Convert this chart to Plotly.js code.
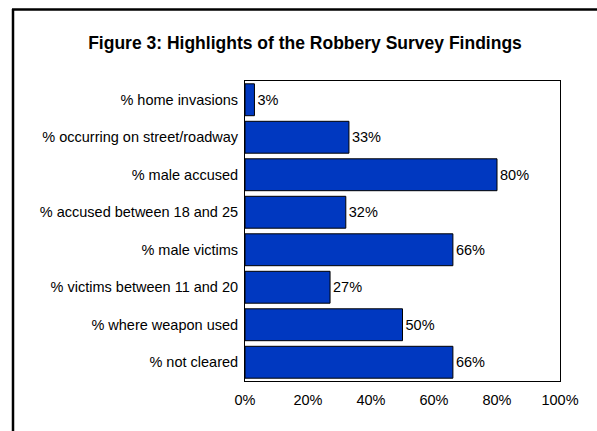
<!DOCTYPE html>
<html><head><meta charset="utf-8">
<script src="https://cdn.plot.ly/plotly-3.0.1.min.js"></script>
<style>html,body{margin:0;padding:0;background:#fff}#chart{width:597px;height:431px}</style>
</head><body><div id="chart"></div>
<script>
const categories = ["% home invasions","% occurring on street/roadway","% male accused","% accused between 18 and 25","% male victims","% victims between 11 and 20","% where weapon used","% not cleared"];
const values = [3, 33, 80, 32, 66, 27, 50, 66];
const xTickVals = [0, 20, 40, 60, 80, 100];
const xTickText = ["0%","20%","40%","60%","80%","100%"];

const L=245, R=560, T=81, B=381, W=597, H=431;
const px = x => (x - L) / (R - L);
const py = y => (B - y) / (B - T);

const trace = {
  type: 'bar', orientation: 'h',
  x: values, y: categories,
  marker: {color: '#0038C0', line: {color: '#000', width: 1}},
  text: values.map(v => v + '%'), textposition: 'outside',
  textfont: {family: 'Liberation Sans, Arial, sans-serif', size: 14.5, color: '#000'},
  cliponaxis: false, hoverinfo: 'none'
};
const layout = {
  width: W, height: H,
  margin: {l: L, r: W - R, t: T, b: H - B, pad: 0},
  paper_bgcolor: '#fff', plot_bgcolor: '#fff',
  font: {family: 'Liberation Sans, Arial, sans-serif', size: 14.5, color: '#000'},
  title: {text: '<b>Figure 3: Highlights of the Robbery Survey Findings</b>', x: 305 / W, xanchor: 'center', y: 1 - 43 / H, yanchor: 'middle', font: {size: 17.5, color: '#000'}},
  bargap: 0.15, showlegend: false,
  xaxis: {range: [0, 100], tickvals: xTickVals, ticktext: xTickText, showgrid: false, zeroline: false,
    showline: true, linecolor: '#000', linewidth: 1, mirror: true, ticks: 'outside', ticklen: 6, tickcolor: 'rgba(0,0,0,0)',
    tickfont: {size: 14.5}},
  yaxis: {autorange: 'reversed', showgrid: false, zeroline: false, showline: true, linecolor: '#000', linewidth: 1, mirror: true,
    ticks: 'outside', ticklen: 3, tickcolor: 'rgba(0,0,0,0)', tickfont: {size: 14.5}},
  shapes: [
    {type: 'line', xref: 'paper', yref: 'paper', x0: px(13), x1: px(13), y0: py(9), y1: py(440), line: {color: '#000', width: 2.5}},
    {type: 'line', xref: 'paper', yref: 'paper', x0: px(12), x1: px(610), y0: py(9.5), y1: py(9.5), line: {color: '#000', width: 2.5}}
  ]
};
Plotly.newPlot('chart', [trace], layout, {staticPlot: true, displayModeBar: false});
</script></body></html>
